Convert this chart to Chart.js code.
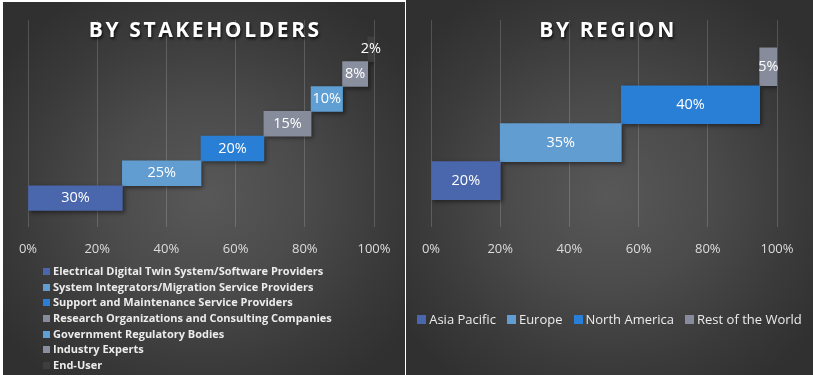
<!DOCTYPE html>
<html>
<head>
<meta charset="utf-8">
<script src="https://cdn.jsdelivr.net/npm/chart.js@4.4.1/dist/chart.umd.min.js"></script>
<style>
  html, body { margin: 0; padding: 0; background: #fff; width: 813px; height: 375px; overflow: hidden; font-family: 'Open Sans', sans-serif; }
  .panel { position: absolute; overflow: hidden;
    background: radial-gradient(ellipse 62% 62% at 50% 52%, #585858 0%, #4b4b4b 40%, #3a3a3a 75%, #303030 100%); }
  #left { left: 3px; top: 2px; width: 402px; height: 373px; }
  #right { left: 406px; top: 0; width: 407px; height: 375px; }
  .box { position: absolute; left: 0; top: 0; width: 100%; height: 100%; }
  .title { position: absolute; left: 0; right: 0; text-align: center; color: #fff; font-weight: 700;
    font-size: 21px; line-height: 21px; letter-spacing: 2.6px; text-shadow: 1px 2px 3px rgba(0,0,0,.75); }
  #left .title { top: 17px; padding-left: 2.6px; }
  #right .title { top: 19px; padding-right: 3px; }
  .legend { position: absolute; color: #ececec; }
  #left .legend { left: 40px; top: 261px; font-size: 11px; font-weight: 700; }
  #left .legend div { height: 15.7px; line-height: 15.7px; white-space: nowrap; }
  #left .legend i { display: inline-block; width: 7px; height: 7px; margin-right: 3px; vertical-align: 0px; }
  #right .legend { left: 0; right: 0; top: 309px; display: flex; justify-content: center; gap: 11px; font-size: 13px; line-height: 20px; }
  #right .legend i { display: inline-block; width: 9px; height: 9px; margin-right: 3px; vertical-align: 0px; }
</style>
</head>
<body>
<div class="panel" id="left">
  <div class="box"><canvas id="stakeChart"></canvas></div>
  <div class="title">BY STAKEHOLDERS</div>
  <div class="legend" id="stakeLegend"></div>
</div>
<div class="panel" id="right">
  <div class="box"><canvas id="regionChart"></canvas></div>
  <div class="title">BY REGION</div>
  <div class="legend" id="regionLegend"></div>
</div>
<script>
const stakeholderLabels = [
  'Electrical Digital Twin System/Software Providers',
  'System Integrators/Migration Service Providers',
  'Support and Maintenance Service Providers',
  'Research Organizations and Consulting Companies',
  'Government Regulatory Bodies',
  'Industry Experts',
  'End-User'
];
const stakeholderShares = [30, 25, 20, 15, 10, 8, 2];
const stakeholderColors = ['#4a66ac', '#629dd1', '#297fd5', '#878c9c', '#5f9fd4', '#8a8f9f', '#3e3e3e'];

const regionLabels = ['Asia Pacific', 'Europe', 'North America', 'Rest of the World'];
const regionShares = [20, 35, 40, 5];
const regionColors = ['#4a66ac', '#629dd1', '#297fd5', '#878c9c'];

// 0%..100% in five steps
const tickSteps = 5;

const gridColor = 'rgba(255,255,255,0.17)';
const tickColor = '#dcdcdc';

// floating bars, each one starts where the previous ended
function buildDatasets(labels, shares, colors) {
  let start = 0;
  return labels.map((label, i) => {
    const end = start + shares[i];
    const ds = {
      label: label,
      data: [{ x: [start, end], y: i }],
      share: shares[i],
      backgroundColor: colors[i],
      grouped: false,
      barPercentage: 1,
      categoryPercentage: 1
    };
    start = end;
    return ds;
  });
}

const barShadow = {
  id: 'barShadow',
  beforeDatasetsDraw(chart) {
    const ctx = chart.ctx;
    ctx.save();
    ctx.shadowColor = 'rgba(0,0,0,0.45)';
    ctx.shadowBlur = 4;
    ctx.shadowOffsetX = 2;
    ctx.shadowOffsetY = 2;
  },
  afterDatasetsDraw(chart) {
    chart.ctx.restore();
  }
};

const barLabels = {
  id: 'barLabels',
  afterDatasetsDraw(chart) {
    const ctx = chart.ctx;
    ctx.save();
    ctx.font = '14.5px "Open Sans"';
    ctx.fillStyle = '#ffffff';
    ctx.textAlign = 'center';
    ctx.textBaseline = 'middle';
    chart.data.datasets.forEach((ds, i) => {
      chart.getDatasetMeta(i).data.forEach(el => {
        const p = el.getCenterPoint();
        ctx.fillText(ds.share + '%', p.x, p.y);
      });
    });
    ctx.restore();
  }
};

function buildChart(id, labels, shares, colors, yMin, yMax, padding) {
  const total = shares.reduce((a, b) => a + b, 0);
  return new Chart(document.getElementById(id), {
    type: 'bar',
    data: { datasets: buildDatasets(labels, shares, colors) },
    options: {
      indexAxis: 'y',
      responsive: true,
      maintainAspectRatio: false,
      animation: false,
      layout: { padding: padding },
      plugins: {
        legend: { display: false },
        tooltip: { enabled: false }
      },
      scales: {
        x: {
          type: 'linear',
          min: 0,
          max: total,
          ticks: {
            stepSize: total / tickSteps,
            color: tickColor,
            padding: 14,
            font: { family: 'Open Sans', size: 13 },
            callback: v => Math.round(v / total * 100) + '%'
          },
          grid: { color: gridColor, drawTicks: false },
          border: { display: false }
        },
        y: {
          type: 'linear',
          display: false,
          bounds: 'data',
          offset: false,
          min: yMin,
          max: yMax,
          afterBuildTicks: scale => {
            scale.ticks = labels.map((_, i) => ({ value: i }));
            scale.min = yMin;
            scale.max = yMax;
          }
        }
      }
    },
    plugins: [barShadow, barLabels]
  });
}

function buildLegend(id, labels, colors) {
  const el = document.getElementById(id);
  labels.forEach((label, i) => {
    const item = document.createElement('div');
    const sw = document.createElement('i');
    sw.style.background = colors[i];
    item.appendChild(sw);
    item.appendChild(document.createTextNode(label));
    el.appendChild(item);
  });
}

buildChart('stakeChart', stakeholderLabels, stakeholderShares, stakeholderColors, -1.18, 7.18,
  { left: 25, right: 31, top: 18, bottom: 104 });
buildChart('regionChart', regionLabels, regionShares, regionColors, -1.23, 4.23,
  { left: 25, right: 36, top: 20, bottom: 104 });

buildLegend('stakeLegend', stakeholderLabels, stakeholderColors);
buildLegend('regionLegend', regionLabels, regionColors);
</script>
</body>
</html>
